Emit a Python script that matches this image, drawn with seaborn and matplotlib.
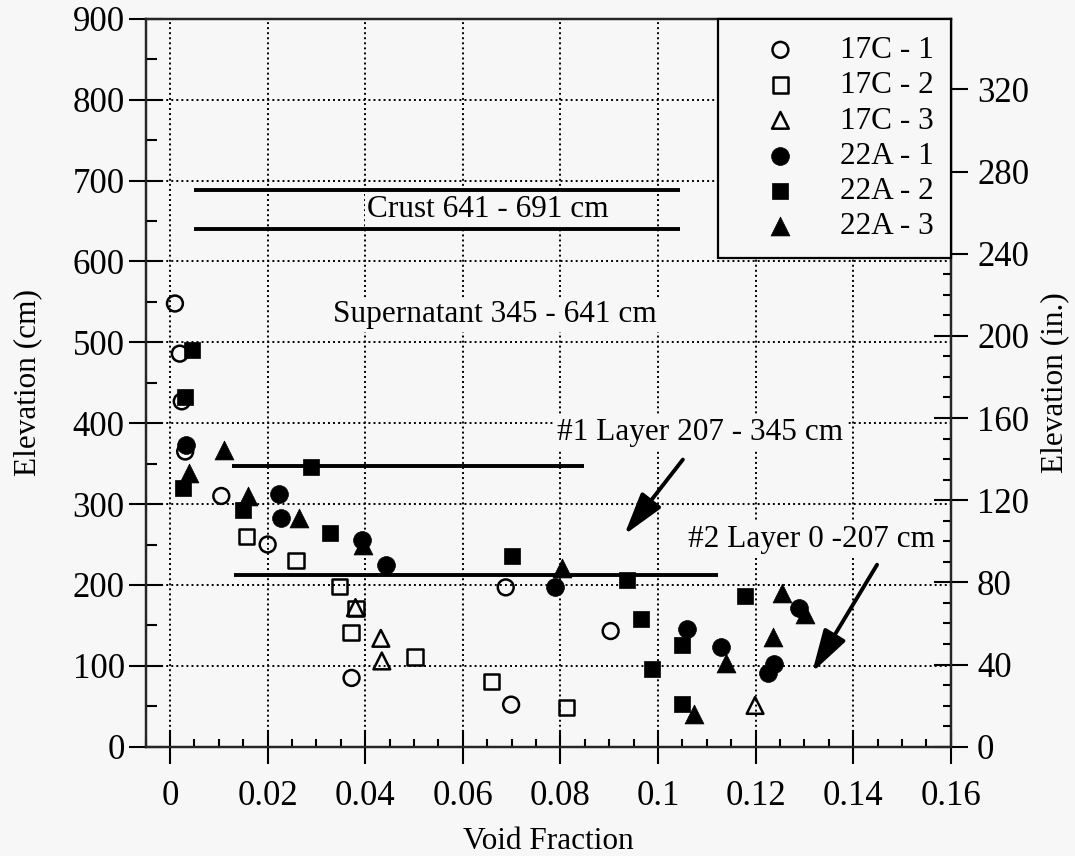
import matplotlib
matplotlib.use("Agg")
import matplotlib.pyplot as plt
import seaborn as sns
from matplotlib.ticker import MultipleLocator, FuncFormatter

sns.set_style("ticks")
plt.rcParams['font.family'] = ['Liberation Serif', 'DejaVu Serif']
plt.rcParams['text.color'] = 'black'
plt.rcParams['axes.labelcolor'] = 'black'
plt.rcParams['xtick.color'] = 'black'
plt.rcParams['ytick.color'] = 'black'

# ---------------- data ----------------
series_names = ["17C - 1", "17C - 2", "17C - 3", "22A - 1", "22A - 2", "22A - 3"]

vf_17c1 = [0.0010, 0.0020, 0.0024, 0.0031, 0.0105, 0.0200, 0.0372, 0.0688, 0.0699, 0.0903]
el_17c1 = [548, 486, 427, 365, 310, 250, 85, 197, 52, 143]

vf_17c2 = [0.0156, 0.0258, 0.0347, 0.0381, 0.0371, 0.0502, 0.0658, 0.0813]
el_17c2 = [260, 230, 198, 171, 141, 111, 81, 48]

vf_17c3 = [0.0380, 0.0432, 0.0434, 0.1199]
el_17c3 = [172, 134, 106, 51]

vf_22a1 = [0.0032, 0.0224, 0.0228, 0.0393, 0.0443, 0.0788, 0.1059, 0.1129, 0.1237, 0.1225, 0.1290]
el_22a1 = [373, 313, 283, 256, 225, 198, 146, 123, 102, 91, 172]

vf_22a2 = [0.0044, 0.0031, 0.0027, 0.0150, 0.0288, 0.0327, 0.0700, 0.0937, 0.0965, 0.0987, 0.1049, 0.1049, 0.1178]
el_22a2 = [491, 433, 320, 293, 346, 264, 236, 206, 158, 96, 126, 53, 186]

vf_22a3 = [0.0038, 0.0111, 0.0160, 0.0265, 0.0396, 0.0803, 0.1074, 0.1140, 0.1235, 0.1254, 0.1301]
el_22a3 = [338, 367, 310, 283, 250, 221, 40, 103, 136, 190, 164]

x_ticks = [0, 0.02, 0.04, 0.06, 0.08, 0.1, 0.12, 0.14, 0.16]
y_ticks_cm = [0, 100, 200, 300, 400, 500, 600, 700, 800, 900]
y_ticks_in = [0, 40, 80, 120, 160, 200, 240, 280, 320]

# layer boundary lines: (elevation cm, x start, x end)
line_elev = [688, 640, 347, 212]
line_x0 = [0.0050, 0.0050, 0.0126, 0.0131]
line_x1 = [0.1045, 0.1045, 0.0849, 0.1123]

ann_texts = ["Crust 641 - 691 cm", "Supernatant 345 - 641 cm",
             "#1 Layer 207 - 345 cm", "#2 Layer 0 -207 cm"]
ann_x = [0.0652, 0.0666, 0.1086, 0.1314]
ann_y = [664, 534, 388, 256]

arrow_tail = [(0.1051, 355), (0.1449, 225)]
arrow_head = [(0.0931, 262), (0.1316, 92)]

# ---------------- figure ----------------
bg = '#f7f7f7'
fig = plt.figure(figsize=(10.75, 8.56), dpi=100)
fig.patch.set_facecolor(bg)
ax = fig.add_axes([0.1355, 0.1277, 0.7489, 0.8503])
ax.set_facecolor(bg)

FS = 22.5
TFS = 25
open_kw = dict(facecolor='none', edgecolor='black', linewidth=1.8)
fill_kw = dict(color='black', edgecolor='black', linewidth=0.5)
series = [
    (vf_17c1, el_17c1, dict(marker='o', s=130, **open_kw)),
    (vf_17c2, el_17c2, dict(marker='s', s=120, **open_kw)),
    (vf_17c3, el_17c3, dict(marker='^', s=145, **open_kw)),
    (vf_22a1, el_22a1, dict(marker='o', s=165, **fill_kw)),
    (vf_22a2, el_22a2, dict(marker='s', s=145, **fill_kw)),
    (vf_22a3, el_22a3, dict(marker='^', s=185, **fill_kw)),
]
for name, (xs, ys, kw) in zip(series_names, series):
    sns.scatterplot(x=xs, y=ys, ax=ax, label=name, legend=False, zorder=3, **kw)

ax.set_xlim(-0.005, 0.16)
ax.set_ylim(0, 900)
ax.set_xticks(x_ticks)
ax.set_yticks(y_ticks_cm)
ax.xaxis.set_minor_locator(MultipleLocator(0.005))
ax.yaxis.set_minor_locator(MultipleLocator(50))
ax.xaxis.set_major_formatter(FuncFormatter(lambda v, p: '0' if abs(v) < 1e-9 else f'{v:g}'))

ax.grid(which='major', color='black', linestyle=(0, (1, 1.6)), linewidth=1.4)
ax.set_axisbelow(True)

for sp in ax.spines.values():
    sp.set_linewidth(1.6)
    sp.set_color('black')

ax.tick_params(which='major', direction='inout', length=24, width=1.5,
               labelsize=TFS, colors='black', top=False, right=False)
ax.tick_params(axis='x', which='major', pad=12)
ax.tick_params(axis='y', which='major', pad=3)
ax.tick_params(axis='x', which='minor', direction='in', length=6, width=1.5, top=False)
ax.tick_params(axis='y', which='minor', direction='in', length=8, width=1.5, right=False)

ax.set_xlabel('Void Fraction', fontsize=FS, labelpad=10)
ax.set_ylabel('Elevation (cm)', fontsize=FS, labelpad=22)

# layer lines
for yv, x0, x1 in zip(line_elev, line_x0, line_x1):
    ax.hlines(yv, x0, x1, color='black', linewidth=2.8, zorder=2.8)

# annotation texts
for t, tx, ty in zip(ann_texts, ann_x, ann_y):
    ax.text(tx, ty, t, fontsize=FS, ha='center', va='center', zorder=4,
            bbox=dict(facecolor=bg, edgecolor='none', pad=2))

for (tx, ty), (hx, hy) in zip(arrow_tail, arrow_head):
    ax.annotate('', xy=(hx, hy), xytext=(tx, ty),
                arrowprops=dict(arrowstyle='-|>,head_length=1.3,head_width=0.38',
                                mutation_scale=20, lw=2.8, color='black',
                                shrinkA=0, shrinkB=0), zorder=4)

# right axis in inches
ax2 = ax.twinx()
ax2.set_ylim(0, 900 / 2.54)
ax2.set_yticks(y_ticks_in)
ax2.yaxis.set_minor_locator(MultipleLocator(10))
ax2.tick_params(which='major', direction='inout', length=24, width=1.5,
                labelsize=TFS, colors='black', pad=7)
ax2.tick_params(which='minor', direction='in', length=5.5, width=1.5)
ax2.set_ylabel('Elevation (in.)', fontsize=FS, rotation=90, labelpad=8)
for sp in ax2.spines.values():
    sp.set_linewidth(1.6)

handles, labels = ax.get_legend_handles_labels()
leg = ax2.legend(handles, labels, loc='upper right', borderaxespad=0,
                 frameon=True, fancybox=False, edgecolor='black', facecolor=bg,
                 framealpha=1, fontsize=FS, handlelength=2.9, handletextpad=0.45,
                 borderpad=0.55, labelspacing=0.2, scatterpoints=1)
leg.get_frame().set_linewidth(1.6)

fig.savefig('out.png', dpi=100, facecolor=bg)
